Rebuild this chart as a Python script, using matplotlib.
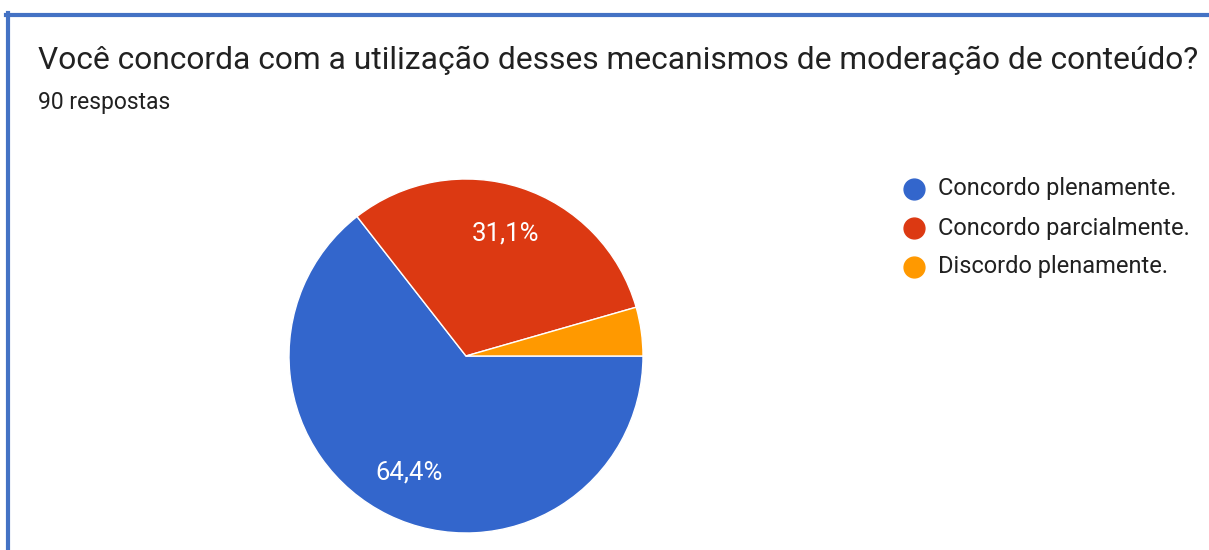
import matplotlib
matplotlib.use("Agg")
import matplotlib.pyplot as plt
from matplotlib.lines import Line2D

title = "Você concorda com a utilização desses mecanismos de moderação de conteúdo?"
subtitle = "90 respostas"
categories = ["Concordo plenamente.", "Concordo parcialmente.", "Discordo plenamente."]
counts = [58, 28, 4]
colors = ["#3366CC", "#DC3912", "#FF9900"]

plt.rcParams['font.family'] = ['Roboto', 'DejaVu Sans']

W, H = 1209, 550
fig = plt.figure(figsize=(W / 100, H / 100), dpi=100)
fig.patch.set_facecolor("white")

# border lines (top and left)
border = "#4472C4"
fig.add_artist(Line2D([6 / W, 1.0], [1 - 14.5 / H, 1 - 14.5 / H], color=border, lw=3, transform=fig.transFigure))
fig.add_artist(Line2D([7.5 / W, 7.5 / W], [0, 1 - 13 / H], color=border, lw=3, transform=fig.transFigure))

# titles
fig.text(38 / W, 1 - 60 / H, title, fontsize=22.9, color="#212121", va="center", ha="left")
fig.text(38 / W, 1 - 102 / H, subtitle, fontsize=16.5, color="#212121", va="center", ha="left")

# pie
cx, cy, r = 466, 356, 177
ax = fig.add_axes([(cx - r) / W, (H - cy - r) / H, 2 * r / W, 2 * r / H])

def fmt(p):
    return (f"{p:.1f}%".replace(".", ",")) if p >= 5 else ""

wedges, texts, autotexts = ax.pie(
    counts, colors=colors, startangle=0, counterclock=False,
    autopct=fmt, pctdistance=0.73, radius=1,
    wedgeprops=dict(edgecolor="white", linewidth=1),
    textprops=dict(color="white", fontsize=18.5),
)
ax.set_xlim(-1, 1)
ax.set_ylim(-1, 1)
ax.set_aspect("equal")
ax.axis("off")

# legend (drawn as markers + texts in figure coordinates)
row_y = [189, 228, 267]
for lab, c, y in zip(categories, colors, row_y):
    fig.add_artist(Line2D([914 / W], [1 - y / H], marker="o", linestyle="none",
                          markersize=15, markerfacecolor=c, markeredgecolor=c,
                          transform=fig.transFigure))
    fig.text(938 / W, 1 - y / H, lab, fontsize=17, color="#212121",
             va="center", ha="left")

fig.savefig("out.png", dpi=100, facecolor="white")
